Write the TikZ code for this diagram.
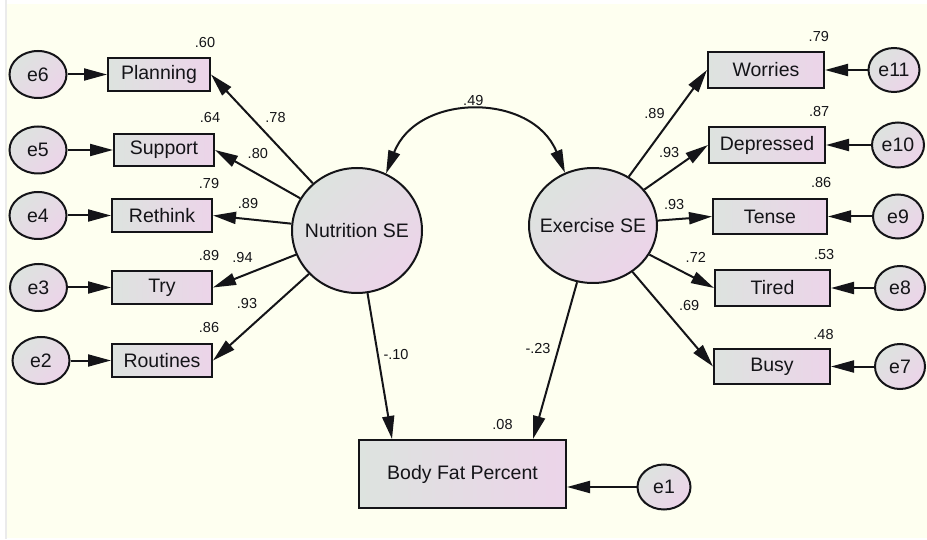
\documentclass[tikz,border=0pt]{standalone}
\usepackage{fontspec}
\setmainfont{Liberation Sans}
\usetikzlibrary{arrows.meta,shapes.geometric}

\definecolor{bgivory}{HTML}{FEFFF0}
\definecolor{shadeL}{HTML}{DDE3DF}
\definecolor{shadeR}{HTML}{ECD4E9}
\definecolor{inkc}{HTML}{141418}

\tikzset{
  nodefont/.style={font=\fontsize{19.5}{22}\selectfont},
  obs/.style={rectangle, draw=inkc, line width=2pt, left color=shadeL, right color=shadeR,
    inner sep=0pt, nodefont, text=inkc},
  lat/.style={ellipse, draw=inkc, line width=2pt, left color=shadeL, right color=shadeR,
    shading angle=45, inner sep=0pt, nodefont, text=inkc},
  err/.style={lat},
  lab/.style={font=\fontsize{14.5}{16}\selectfont, inner sep=0pt, text=inkc},
  path/.style={draw=inkc, line width=2pt, -{Triangle[length=23pt,width=12pt]}},
  cov/.style={draw=inkc, line width=2pt, {Triangle[length=23pt,width=12pt]}-{Triangle[length=23pt,width=12pt]}}
}

\begin{document}
\begin{tikzpicture}[x=1pt,y=1pt]
% canvas
\fill[white] (0,0) rectangle (927,539);
\fill[black!8] (5,0) rectangle (7,539);
\fill[bgivory] (7,1) rectangle (927,535);
\useasboundingbox (0,0) rectangle (927,539);

% latent factors
\node[lat, minimum width=130pt, minimum height=125pt] (nut) at (357,308.5) {\makebox[0pt]{Nutrition SE}};
\node[lat, minimum width=128pt, minimum height=115pt] (exer) at (593,313.5) {\makebox[0pt]{Exercise SE}};

% nutrition indicators
\node[obs, minimum width=102pt, minimum height=33pt] (plan) at (159,464.5) {Planning};
\node[obs, minimum width=100pt, minimum height=32pt] (sup)  at (164,389) {Support};
\node[obs, minimum width=100pt, minimum height=33pt] (reth) at (162,323.5) {Rethink};
\node[obs, minimum width=100pt, minimum height=33pt] (try)  at (162,251.5) {Try};
\node[obs, minimum width=100pt, minimum height=33pt] (rout) at (162,178.5) {Routines};

\node[err, minimum width=57pt, minimum height=47pt] (e6) at (38,464.5) {e6};
\node[err, minimum width=57pt, minimum height=47pt] (e5) at (38,389) {e5};
\node[err, minimum width=57pt, minimum height=47pt] (e4) at (38,323.5) {e4};
\node[err, minimum width=57pt, minimum height=47pt] (e3) at (38.5,251.5) {e3};
\node[err, minimum width=57pt, minimum height=47pt] (e2) at (41,178.5) {e2};

% exercise indicators
\node[obs, minimum width=116pt, minimum height=36pt] (worr)  at (766,469) {Worries};
\node[obs, minimum width=116pt, minimum height=36pt] (depr)  at (767,394) {Depressed};
\node[obs, minimum width=114pt, minimum height=35pt] (tense) at (770,322.5) {Tense};
\node[obs, minimum width=115pt, minimum height=36pt] (tired) at (772.5,251) {Tired};
\node[obs, minimum width=116pt, minimum height=35pt] (busy)  at (772,172.5) {Busy};

\node[err, minimum width=51pt, minimum height=44pt] (e11) at (894,469) {e11};
\node[err, minimum width=52pt, minimum height=45pt] (e10) at (898,394) {e10};
\node[err, minimum width=50pt, minimum height=44pt] (e9)  at (898,322.5) {e9};
\node[err, minimum width=50pt, minimum height=44pt] (e8)  at (900,251) {e8};
\node[err, minimum width=50pt, minimum height=45pt] (e7)  at (900,172.5) {e7};

% outcome
\node[obs, minimum width=207pt, minimum height=68pt] (bfp) at (462.5,65) {Body Fat Percent};
\node[err, minimum width=53pt, minimum height=45pt] (e1) at (664,52) {e1};

% residual paths
\draw[path] (e6.east) -- (plan.west);
\draw[path] (e5.east) -- (sup.west);
\draw[path] (e4.east) -- (reth.west);
\draw[path] (e3.east) -- (try.west);
\draw[path] (e2.east) -- (rout.west);
\draw[path] (e11.west) -- (worr.east);
\draw[path] (e10.west) -- (depr.east);
\draw[path] (e9.west) -- (tense.east);
\draw[path] (e8.west) -- (tired.east);
\draw[path] (e7.west) -- (busy.east);
\draw[path] (e1.west) -- ([yshift=-13pt]bfp.east);

% loadings
\draw[path] (nut) -- (plan.east);
\draw[path] (nut) -- (sup.east);
\draw[path] (nut) -- (reth.east);
\draw[path] (nut) -- (try.east);
\draw[path] (nut) -- (rout.east);
\draw[path] (exer) -- (worr.west);
\draw[path] (exer) -- (depr.west);
\draw[path] (exer) -- (tense.west);
\draw[path] (exer) -- (tired.west);
\draw[path] (exer) -- (busy.west);

% structural paths
\draw[path] (nut) -- ([xshift=34pt]bfp.north west);
\draw[path] (exer) -- ([xshift=-34pt]bfp.north east);

% factor covariance
\draw[cov] (nut.63) to[out=69, in=112, looseness=1.24] (exer.118);

% estimates
\node[lab] (r60) at (205,496) {.60};
\node[lab] (r64) at (210,421) {.64};
\node[lab] (r79a) at (209,355.7) {.79};
\node[lab] (r89a) at (209,283.3) {.89};
\node[lab] (r86a) at (209,211) {.86};
\node[lab] (l78) at (275.5,421.5) {.78};
\node[lab] (l80) at (257.8,385) {.80};
\node[lab] (l89a) at (248,335) {.89};
\node[lab] (l94) at (242.5,281.5) {.94};
\node[lab] (l93a) at (247,235) {.93};
\node[lab] (c49) at (473.3,438.5) {.49};
\node[lab] (r79b) at (818.8,502.3) {.79};
\node[lab] (r87) at (819.2,427.3) {.87};
\node[lab] (r86b) at (821.2,356.5) {.86};
\node[lab] (r53) at (824.2,284.8) {.53};
\node[lab] (r48) at (823.5,204.8) {.48};
\node[lab] (l89b) at (654.5,425.7) {.89};
\node[lab] (l93b) at (669.2,386.8) {.93};
\node[lab] (l93c) at (674.2,334) {.93};
\node[lab] (l72) at (695.8,281.5) {.72};
\node[lab] (l69) at (689.2,233.2) {.69};
\node[lab] (b10) at (396,184) {-.10};
\node[lab] (b23) at (538,190) {-.23};
\node[lab] (r08) at (502.5,114) {.08};
\end{tikzpicture}
\end{document}
